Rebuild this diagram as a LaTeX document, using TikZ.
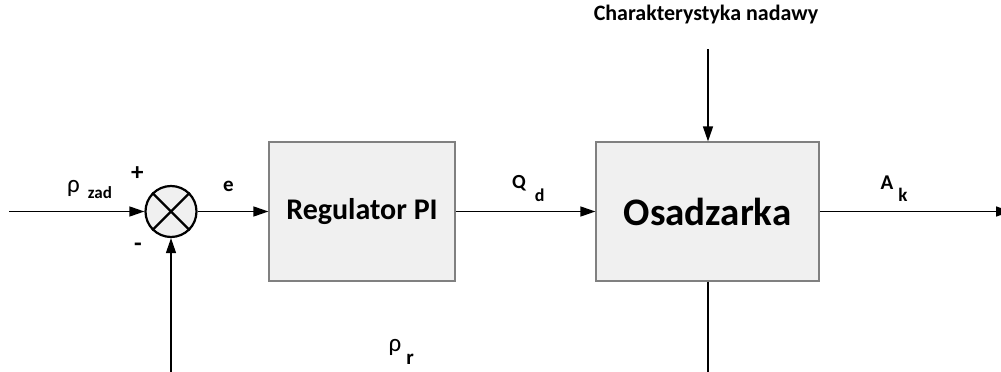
\documentclass[tikz,border=0pt]{standalone}
\usepackage{fontspec}
\setmainfont{Carlito}
\usetikzlibrary{arrows.meta}
\definecolor{boxfill}{HTML}{F0F0F0}
\definecolor{boxline}{HTML}{808080}
\tikzset{
  blk/.style={draw=boxline, fill=boxfill, line width=1.2pt, inner sep=0pt},
  conn/.style={line width=1.4pt, -{Triangle[length=15pt,width=10pt]}},
  wire/.style={line width=1.4pt},
  lbl/.style={inner sep=0pt, anchor=base west, font=\bfseries\fontsize{21}{21}\selectfont},
}
\newcommand{\rhobig}{{\mdseries\fontsize{25}{25}\selectfont ρ}}
\begin{document}
\begin{tikzpicture}[x=1pt,y=-1pt]
\clip (0,0) rectangle (1001,372);
\fill[white] (0,0) rectangle (1001,372);
% blocks
\node[blk, minimum width=186pt, minimum height=139pt, font=\bfseries\fontsize{30}{30}\selectfont] (reg) at (362,211.5) {Regulator PI};
\node[blk, minimum width=223pt, minimum height=139pt, font=\bfseries\fontsize{39}{39}\selectfont] (osa) at (707.5,211.5) {Osadzarka};
\node[circle, draw, line width=2.2pt, fill=boxfill, minimum size=51pt, inner sep=0pt] (sum) at (171,211.5) {};
\draw[line width=2.2pt] (sum.north west) -- (sum.south east);
\draw[line width=2.2pt] (sum.north east) -- (sum.south west);
% free ends
\coordinate (in) at (9,211.5);
\coordinate (out) at (1011,211.5);
\coordinate (fb) at (171,380);
\coordinate (ob) at (708,380);
\coordinate (ch) at (708,49);
% connectors
\draw[conn] (in) -- (sum.west);
\draw[conn] (sum.east) -- (reg.west);
\draw[conn] (reg.east) -- (osa.west);
\draw[conn] (osa.east) -- (out);
\draw[conn] (ch) -- (osa.north -| ch);
\draw[conn] (fb) -- (sum.south);
\draw[wire] (osa.south -| ob) -- (ob);
% labels
\node[inner sep=0pt, font=\bfseries\fontsize{22}{22}\selectfont] (char) at (706,15) {Charakterystyka nadawy};
\node[lbl] (rzad) at (67,192) {\rhobig\hspace{8pt}\raisebox{-6pt}{\fontsize{17}{17}\selectfont zad}};
\node[lbl, font=\bfseries\fontsize{25}{25}\selectfont] (plus) at (131,180) {+};
\node[lbl, font=\bfseries\fontsize{25}{25}\selectfont] (minus) at (134,251) {-};
\node[lbl] (e) at (223,191) {e};
\node[lbl, font=\bfseries\fontsize{20}{20}\selectfont] (qd) at (512,188) {Q\hspace{9pt}\raisebox{-13pt}{\fontsize{18}{18}\selectfont d}};
\node[lbl] (ak) at (880.5,189) {A\hspace{5pt}\raisebox{-12pt}{\fontsize{19}{19}\selectfont k}};
\node[lbl] (rr) at (388.5,351) {\rhobig\hspace{5pt}\raisebox{-13pt}{r}};
\end{tikzpicture}
\end{document}
